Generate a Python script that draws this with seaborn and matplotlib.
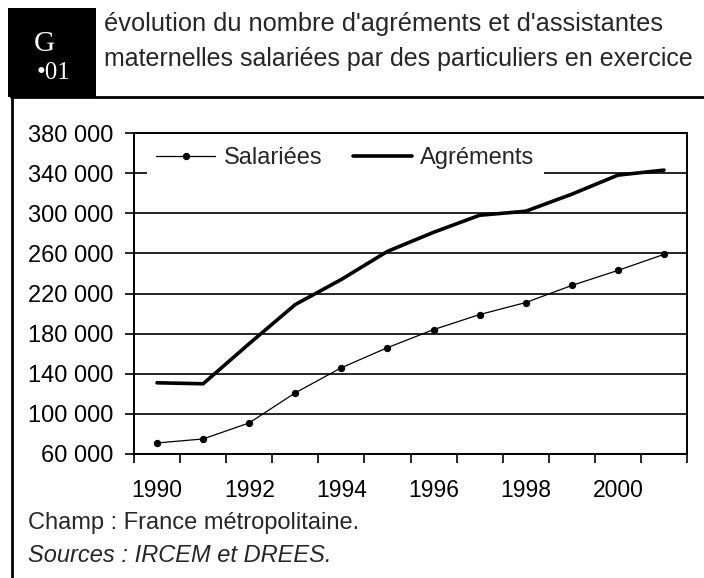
import matplotlib
matplotlib.use("Agg")
import matplotlib.pyplot as plt
from matplotlib.ticker import FixedLocator, FuncFormatter
import seaborn as sns
import pandas as pd

years = [1990, 1991, 1992, 1993, 1994, 1995, 1996, 1997, 1998, 1999, 2000, 2001]
salariees = [71000, 75000, 91000, 121000, 146000, 166000, 184000, 199000, 211000, 228000, 243000, 259000]
agrements = [131000, 130000, 170000, 209000, 234000, 262000, 281000, 298000, 302000, 319000, 338000, 343000]
year_labels = ["1990", "1992", "1994", "1996", "1998", "2000"]
y_ticks = [60000, 100000, 140000, 180000, 220000, 260000, 300000, 340000, 380000]

sns.set_style("white")
plt.rcParams["font.family"] = ["Liberation Sans", "DejaVu Sans"]

df = pd.DataFrame({"idx": list(range(len(years))), "Salariées": salariees, "Agréments": agrements})

fig = plt.figure(figsize=(7.04, 5.78), dpi=100)
ax = fig.add_axes([134 / 704, 1 - 454 / 578, (687 - 134) / 704, (454 - 133) / 578])

sns.lineplot(data=df, x="idx", y="Salariées", ax=ax, color="black", linewidth=0.9,
             marker="o", markersize=4.5, markeredgecolor="black", label="Salariées")
sns.lineplot(data=df, x="idx", y="Agréments", ax=ax, color="black", linewidth=2.6,
             label="Agréments")

ax.set_xlim(-0.5, len(years) - 0.5)
ax.set_ylim(60000, 380000)
ax.set_xlabel("")
ax.set_ylabel("")

ax.xaxis.set_major_locator(FixedLocator([i - 0.5 for i in range(len(years) + 1)]))
ax.xaxis.set_major_formatter(FuncFormatter(lambda v, p: ""))
lab_pos = [years.index(int(s)) for s in year_labels]
ax.xaxis.set_minor_locator(FixedLocator(lab_pos))
ax.xaxis.set_minor_formatter(FuncFormatter(lambda v, p: year_labels[lab_pos.index(int(round(v)))] if int(round(v)) in lab_pos else ""))
ax.tick_params(axis="x", which="major", direction="out", length=6.5, width=1.2, color="black", bottom=True)
ax.tick_params(axis="x", which="minor", length=0, pad=18, labelsize=16.5, labelcolor="black", bottom=True)

ax.set_yticks(y_ticks)
ax.yaxis.set_major_formatter(FuncFormatter(lambda v, p: f"{int(v):,}".replace(",", " ")))
ax.tick_params(axis="y", which="major", direction="out", length=6.5, width=1.2, color="black",
               pad=8, labelsize=17, labelcolor="black", left=True)

ax.grid(axis="y", color="black", linewidth=1.2)
ax.grid(axis="x", visible=False)
ax.set_axisbelow(True)
for s in ax.spines.values():
    s.set_visible(True)
    s.set_color("black")
    s.set_linewidth(1.4)

leg = ax.legend(loc="center left", bbox_to_anchor=((147 - 134) / 553, (454 - 158) / 321),
                ncol=2, frameon=True, fancybox=False, framealpha=1, facecolor="white",
                edgecolor="white", fontsize=17, handlelength=2.5, handletextpad=0.35,
                columnspacing=1.3, borderpad=0.4, borderaxespad=0)
leg.get_frame().set_linewidth(0)

# header
fig.patches.append(plt.Rectangle((8 / 704, 1 - 97 / 578), (96 - 8) / 704, (97 - 8) / 578,
                                 transform=fig.transFigure, facecolor="black", edgecolor="none"))
serif = ["Liberation Serif", "DejaVu Serif"]
fig.text(44 / 704, 1 - 51 / 578, "G", color="white", fontsize=21, family=serif,
         ha="center", va="baseline")
fig.text(54 / 704, 1 - 79 / 578, "•01", color="white", fontsize=18, family=serif,
         ha="center", va="baseline")
fig.text(104 / 704, 1 - 24 / 578, "évolution du nombre d'agréments et d'assistantes",
         fontsize=18.3, ha="left", va="center")
fig.text(104 / 704, 1 - 59 / 578, "maternelles salariées par des particuliers en exercice",
         fontsize=18, ha="left", va="center")

# frame lines
fig.add_artist(plt.Line2D([11 / 704, 1], [1 - 97 / 578, 1 - 97 / 578], transform=fig.transFigure,
                          color="black", linewidth=2))
fig.add_artist(plt.Line2D([12 / 704, 12 / 704], [0, 1 - 97 / 578], transform=fig.transFigure,
                          color="black", linewidth=2))

# footer
fig.text(28 / 704, 1 - 523 / 578, "Champ : France métropolitaine.", fontsize=17, ha="left", va="center")
fig.text(28 / 704, 1 - 556 / 578, "Sources : IRCEM et DREES.", fontsize=17, style="italic", ha="left", va="center")

fig.savefig("out.png", dpi=100)
